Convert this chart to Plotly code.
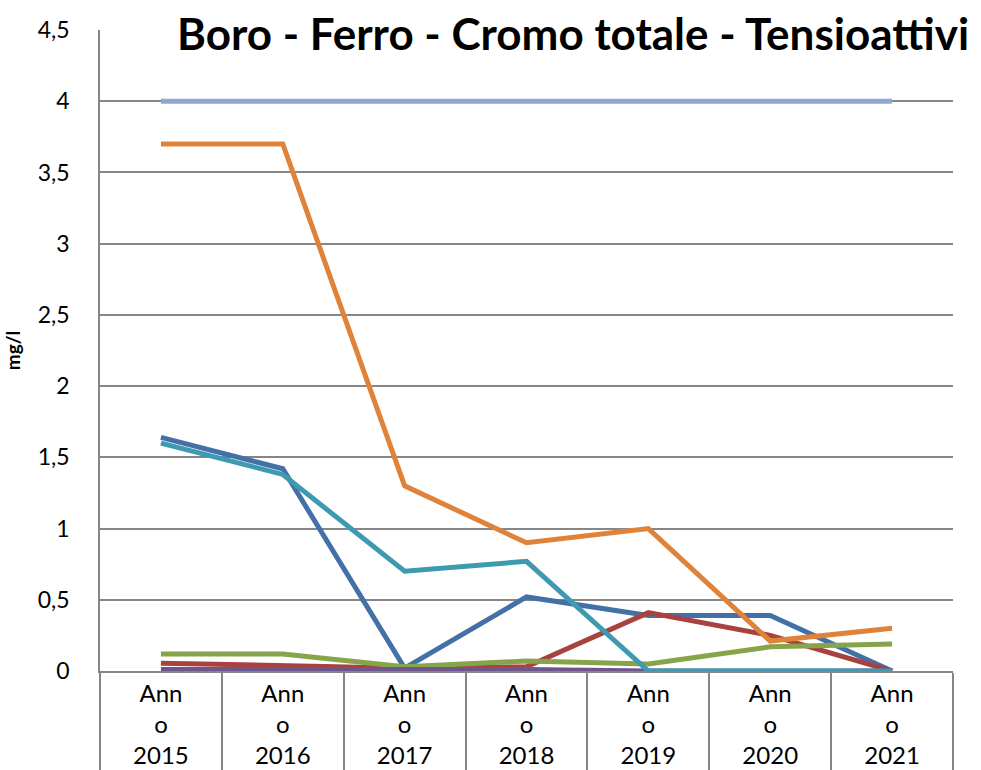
import plotly.graph_objects as go

categories = ["Anno 2015", "Anno 2016", "Anno 2017", "Anno 2018", "Anno 2019", "Anno 2020", "Anno 2021"]
tick_labels = ["Ann<br>o<br>2015", "Ann<br>o<br>2016", "Ann<br>o<br>2017", "Ann<br>o<br>2018",
               "Ann<br>o<br>2019", "Ann<br>o<br>2020", "Ann<br>o<br>2021"]

serie_blu = [1.64, 1.42, 0.02, 0.52, 0.39, 0.39, 0.0]
serie_rossa = [0.055, 0.04, 0.02, 0.03, 0.41, 0.25, 0.0]
serie_verde = [0.12, 0.12, 0.03, 0.07, 0.05, 0.17, 0.19]
serie_viola = [0.01, 0.01, 0.01, 0.01, 0.0, 0.0, 0.0]
serie_azzurra = [1.60, 1.38, 0.70, 0.77, 0.0, 0.0, 0.0]
serie_arancio = [3.7, 3.7, 1.3, 0.9, 1.0, 0.21, 0.30]
limite = [4, 4, 4, 4, 4, 4, 4]

series = [
    (serie_blu, "#4470A8"),
    (serie_rossa, "#A8423F"),
    (serie_verde, "#86A44A"),
    (serie_viola, "#6F558D"),
    (serie_azzurra, "#3E9AB0"),
    (serie_arancio, "#E0833A"),
    (limite, "#8EA8D2"),
]

fig = go.Figure()
for values, color in series:
    fig.add_trace(go.Scatter(
        x=categories, y=values, mode="lines",
        line=dict(color=color, width=5),
        showlegend=False,
    ))

font_family = "Lato"

fig.update_layout(
    width=981, height=770,
    margin=dict(l=100, r=28, t=30, b=99),
    paper_bgcolor="white", plot_bgcolor="white",
    separators=", ",
    font=dict(family=font_family, color="black"),
    title=dict(
        text="<b>Boro - Ferro - Cromo totale - Tensioattivi</b>",
        font=dict(size=44, family=font_family, color="black"),
        x=177 / 981, xanchor="left", xref="container",
        y=1 - 35 / 770, yanchor="middle", yref="container",
    ),
    xaxis=dict(
        type="category",
        tickmode="array", tickvals=categories, ticktext=tick_labels,
        tickfont=dict(size=24, family=font_family),
        showgrid=False,
        showline=True, linecolor="#868686", linewidth=1.5,
        ticks="outside", tickson="boundaries", ticklen=100,
        tickcolor="#868686", tickwidth=1.5,
        range=[-0.5, 6.5],
        automargin=False,
    ),
    yaxis=dict(
        range=[0, 4.5], dtick=0.5, tick0=0,
        tickformat="~g",
        tickfont=dict(size=23, family=font_family),
        showgrid=True, gridcolor="#868686", gridwidth=1.5,
        showline=True, linecolor="#868686", linewidth=1.5,
        zeroline=False,
        ticks="", ticklabelstandoff=24,
        title=dict(text="<b>mg/l</b>", font=dict(size=19, family=font_family), standoff=12),
        automargin=False,
    ),
)

fig.write_html("out.html")
